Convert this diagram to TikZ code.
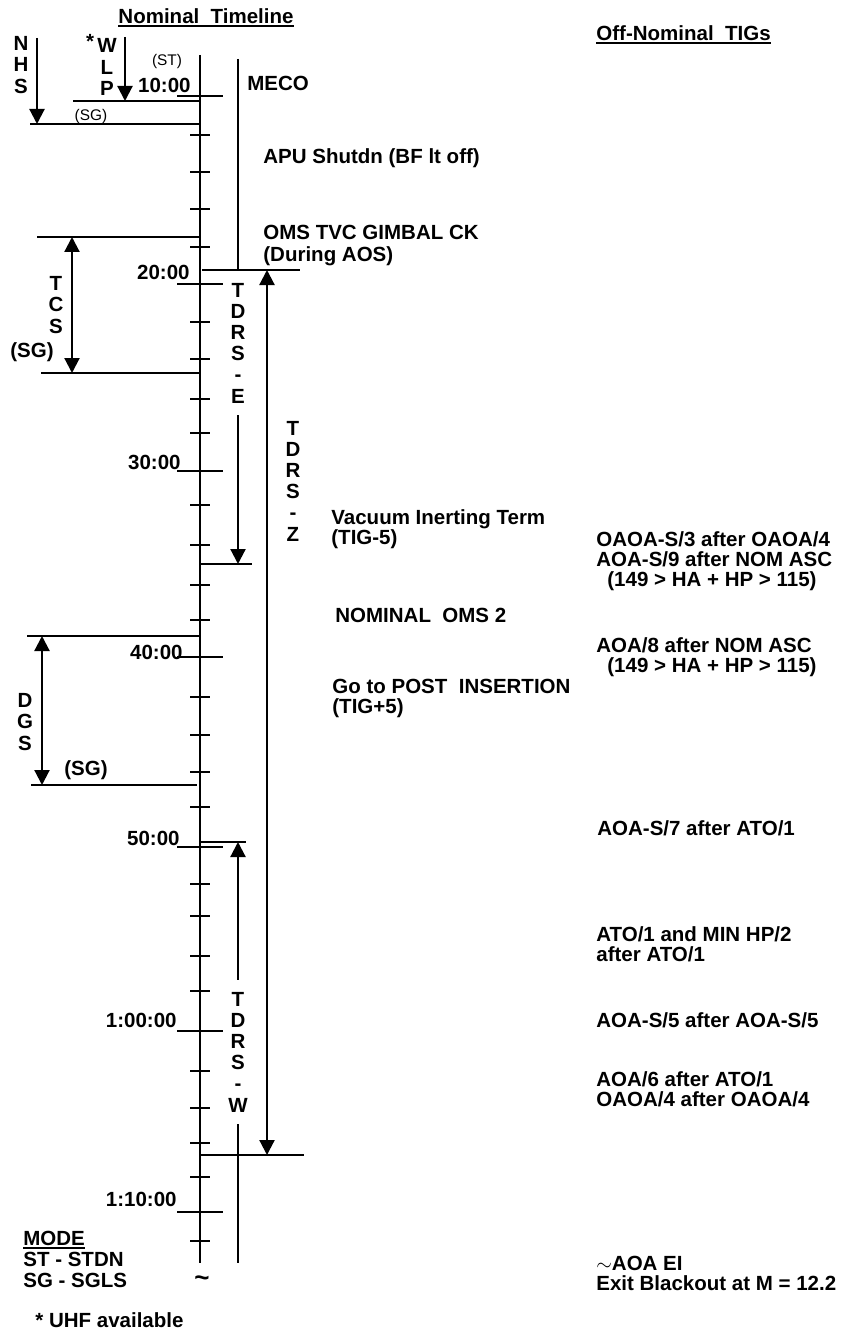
\documentclass[tikz,border=0pt]{standalone}
\usepackage{fontspec}
\setmainfont{Liberation Sans}
\usetikzlibrary{arrows.meta,positioning}

\tikzset{
  txt/.style={font=\bfseries\fontsize{10.25}{10}\selectfont, inner sep=0pt, align=left},
  vlbl/.style={font=\bfseries\fontsize{10.25}{10.6}\selectfont, inner sep=0pt, align=center},
  note/.style={font=\fontsize{7.7}{8}\selectfont, inner sep=0pt},
  rule/.style={line width=0.6pt},
  uline/.style={line width=1pt},
  axisline/.style={line width=0.8pt},
  durarrow/.style={line width=1.1pt, -{Triangle[length=7.5pt,width=7.5pt]}},
  durboth/.style={line width=1.1pt, {Triangle[length=7.5pt,width=7.5pt]}-{Triangle[length=7.5pt,width=7.5pt]}},
}

\begin{document}
\begin{tikzpicture}[x=0.5pt, y=-0.5pt]
  \useasboundingbox (0,0) rectangle (852,1332);

  % headings
  \node[txt] (nomhead) at (206,16) {Nominal\ \ Timeline};
  \draw[uline] ([yshift=-1.2pt]nomhead.south west) -- ([yshift=-1.2pt]nomhead.south east);
  \node[txt, anchor=west] (offhead) at (596,33) {Off-Nominal\ \ TIGs};
  \draw[uline] ([yshift=-1.2pt]offhead.south west) -- ([yshift=-1.2pt]offhead.south east);

  % timeline axis, ticks every 2 min
  \coordinate (axtop) at (200,55);
  \coordinate (axbot) at (200,1263);
  \draw[axisline] (axtop) -- (axbot);
  \foreach \y in {135,172,209,247,322,359,399,433,505,545,585,620,697,735,772,807,884,916,956,991,1071,1108,1143,1177,1241}
    \draw[rule] (190,\y) -- (210,\y);
  \foreach \y/\xr/\yl/\t in {96/191/85/10:00, 284/190/272/20:00, 471/181/462/30:00, 657/183/652/40:00,
                             847/180/838/50:00, 1031/177/1020/1:00:00, 1212/177/1199/1:10:00} {
    \draw[rule] (177,\y) -- (223,\y);
    \node[txt, anchor=east] (time\y) at (\xr,\yl) {\t};
  }
  \node[font=\bfseries\fontsize{13}{13}\selectfont, inner sep=0pt] (cont) at (202,1281) {\textasciitilde};

  % NHS / WLP (ST) (SG)
  \node[vlbl] (nhs) at (21,65) {N\\H\\S};
  \coordinate (nhsTop) at (37,38);
  \coordinate (nhsEnd) at (37,124);
  \draw[rule] (30,124) -- (nhsEnd -| axtop);
  \draw[durarrow] (nhsTop) -- (nhsEnd);
  \node[vlbl] (wlp) at (107,67) {W\\L\\P};
  \node[txt] (star) at (90,41) {*};
  \coordinate (wlpTop) at (125,37);
  \coordinate (wlpEnd) at (125,101);
  \draw[rule] (73,101) -- (wlpEnd -| axtop);
  \draw[durarrow] (wlpTop) -- (wlpEnd);
  \node[note] (st) at (167,62) {(ST)};
  \node[note] (sg) at (91,117) {(SG)};

  % TCS
  \node[vlbl] (tcs) at (56,305) {T\\C\\S};
  \node[txt] (tcssg) at (32,352) {(SG)};
  \coordinate (tcsTop) at (72,237);
  \coordinate (tcsEnd) at (72,373);
  \draw[rule] (37,237) -- (tcsTop -| axtop);
  \draw[rule] (41,373) -- (tcsEnd -| axtop);
  \draw[durboth] (tcsTop) -- (tcsEnd);

  % DGS
  \node[vlbl] (dgs) at (25,722) {D\\G\\S};
  \node[txt] (dgssg) at (86,770) {(SG)};
  \coordinate (dgsTop) at (42,636);
  \coordinate (dgsEnd) at (42,785);
  \draw[rule] (27,636) -- (dgsTop -| axtop);
  \draw[rule] (31,785) -- (197,785);
  \draw[durboth] (dgsTop) -- (dgsEnd);

  % TDRS coverage
  \coordinate (zTop) at (267,270);
  \coordinate (zEnd) at (267,1155);
  \draw[rule] (202,270) -- (300,270);
  \draw[rule] (201,1155) -- (304,1155);
  \draw[durboth] (zTop) -- (zEnd);
  \node[vlbl] (tdrsz) at (293,481) {T\\D\\R\\S\\-\\Z};

  \coordinate (eTop) at (238,59);
  \coordinate (eMid) at (238,270);
  \draw[durarrow, -] (eTop) -- (eMid);
  \node[vlbl] (tdrse) at (238,343) {T\\D\\R\\S\\-\\E};
  \coordinate (eEnd) at (238,564);
  \draw[rule] (200,564) -- (252,564);
  \draw[durarrow] ([yshift=-6pt]tdrse.south) -- (eEnd);

  \node[vlbl] (tdrsw) at (238,1052) {T\\D\\R\\S\\-\\W};
  \coordinate (wTop) at (238,842);
  \coordinate (wBot) at (238,1263);
  \draw[rule] (200,842) -- (246,842);
  \draw[durarrow] ([yshift=6pt]tdrsw.north) -- (wTop);
  \draw[durarrow, -] ([yshift=-6pt]tdrsw.south) -- (wBot);

  % nominal events
  \node[txt, anchor=west] (meco) at (247,83) {MECO};
  \node[txt, anchor=west] (apu) at (263,158) {APU Shutdn (BF lt off)};
  \node[txt, anchor=west, font=\bfseries\fontsize{10.25}{11}\selectfont] (gimbal) at (263,246) {OMS TVC GIMBAL CK\\(During AOS)};
  \node[txt, anchor=west] (vac) at (331,529) {Vacuum Inerting Term\\(TIG-5)};
  \node[txt, anchor=west] (oms2) at (335,615) {NOMINAL\ \ OMS 2};
  \node[txt, anchor=west] (post) at (332,698) {Go to POST\ \ INSERTION\\(TIG+5)};

  % off-nominal TIGs
  \node[txt, anchor=west] (oaoa3) at (596,561) {OAOA-S/3 after OAOA/4\\AOA-S/9 after NOM ASC\\\hspace*{5.5pt}(149 > HA + HP > 115)};
  \node[txt, anchor=west] (aoa8) at (596,657) {AOA/8 after NOM ASC\\\hspace*{5.5pt}(149 > HA + HP > 115)};
  \node[txt, anchor=west] (aoas7) at (597,828) {AOA-S/7 after ATO/1};
  \node[txt, anchor=west] (ato1) at (596,944) {ATO/1 and MIN HP/2\\after ATO/1};
  \node[txt, anchor=west] (aoas5) at (596,1020) {AOA-S/5 after AOA-S/5};
  \node[txt, anchor=west] (aoa6) at (596,1089) {AOA/6 after ATO/1\\OAOA/4 after OAOA/4};
  \node[txt, anchor=west] (aoaei) at (596,1273) {$\sim$AOA EI\\Exit Blackout at M = 12.2};

  % legend
  \node[txt, anchor=west] (mode) at (23,1238) {MODE};
  \draw[uline] ([yshift=-1.2pt]mode.south west) -- ([yshift=-1.2pt]mode.south east);
  \node[txt, anchor=west, font=\bfseries\fontsize{10.25}{10.5}\selectfont] (modes) at (23,1270) {ST - STDN\\SG - SGLS};
  \node[txt, anchor=west] (uhf) at (35,1320) {* UHF available};
\end{tikzpicture}
\end{document}
